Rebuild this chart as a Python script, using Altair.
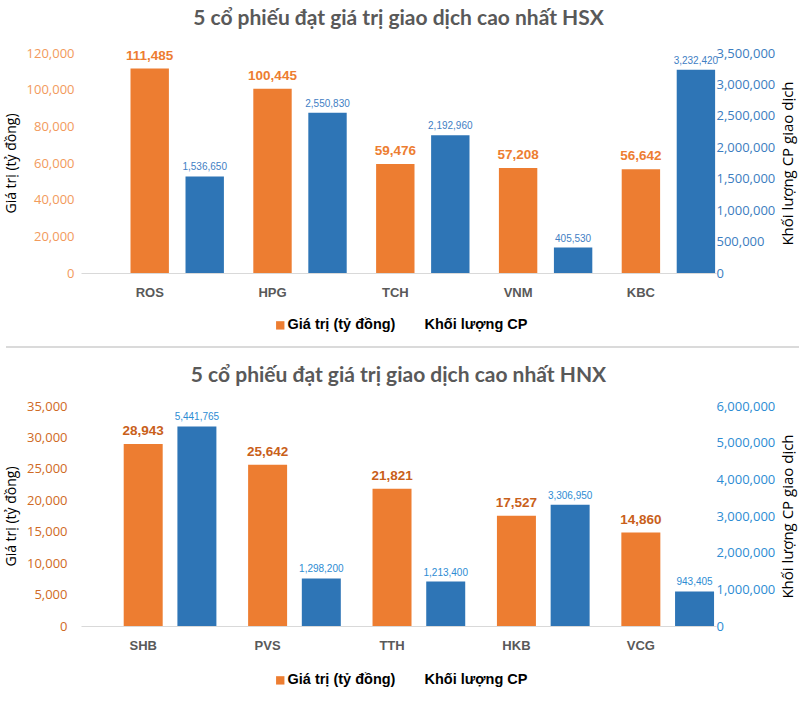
import altair as alt
import pandas as pd

# ---------------- data ----------------
series_names = ["Giá trị (tỷ đồng)", "Khối lượng CP"]

hsx_title = "5 cổ phiếu đạt giá trị giao dịch cao nhất HSX"
hsx_stocks = ["ROS", "HPG", "TCH", "VNM", "KBC"]
hsx_value = [111485, 100445, 59476, 57208, 56642]
hsx_volume = [1536650, 2550830, 2192960, 405530, 3232420]
hsx_value_ticks = [0, 20000, 40000, 60000, 80000, 100000, 120000]
hsx_volume_ticks = [0, 500000, 1000000, 1500000, 2000000, 2500000, 3000000, 3500000]

hnx_title = "5 cổ phiếu đạt giá trị giao dịch cao nhất HNX"
hnx_stocks = ["SHB", "PVS", "TTH", "HKB", "VCG"]
hnx_value = [28943, 25642, 21821, 17527, 14860]
hnx_volume = [5441765, 1298200, 1213400, 3306950, 943405]
hnx_value_ticks = [0, 5000, 10000, 15000, 20000, 25000, 30000, 35000]
hnx_volume_ticks = [0, 1000000, 2000000, 3000000, 4000000, 5000000, 6000000]

ORANGE = "#ED7D31"
BLUE = "#2E75B6"
NARROW = "Liberation Sans Narrow, Liberation Sans, Arial, sans-serif"
SANS = "Open Sans"


def panel(title, stocks, values, volumes, vticks, wticks, style, separator=False):
    df_val = pd.DataFrame({"stock": stocks, "series": series_names[0], "amount": values})
    df_vol = pd.DataFrame({"stock": stocks, "series": series_names[1], "amount": volumes})

    x = alt.X(
        "stock:N",
        sort=stocks,
        scale=alt.Scale(paddingInner=0, paddingOuter=style["po"], align=style["align"]),
        axis=alt.Axis(
            title=None, labelAngle=0, ticks=False, domainColor="#D9D9D9",
            labelPadding=13, labelFont=NARROW, labelFontSize=13,
            labelFontWeight="bold", labelColor="#595959",
        ),
    )
    xo = alt.XOffset(
        "series:N",
        sort=series_names,
        scale=alt.Scale(domain=series_names, range=style["xo_range"],
                        paddingInner=style["xo_pi"], paddingOuter=0),
    )
    legend = alt.Legend(
        title=None, orient="none", direction="horizontal",
        legendX=style["legx"], legendY=style["legy"],
        symbolType="square", symbolSize=70, symbolStrokeWidth=0,
        symbolOpacity=alt.ExprRef("datum.value === 'Khối lượng CP' ? 0 : 1"),
        labelFont=NARROW, labelFontSize=14.5, labelFontWeight="bold",
        labelColor="#000000", labelOffset=0, columnPadding=14,
    )
    color = alt.Color(
        "series:N",
        scale=alt.Scale(domain=series_names, range=[ORANGE, BLUE]),
        legend=legend,
    )

    yv = alt.Y(
        "amount:Q",
        scale=alt.Scale(domain=[0, vticks[-1]], nice=False),
        axis=alt.Axis(
            orient="left", values=vticks, format=",.0f", grid=False, domain=False,
            ticks=False, labelPadding=style["lpad"], labelFont=SANS, labelFontSize=13,
            labelColor=style["vaxis_color"], title=series_names[0],
            titleFont=SANS, titleFontSize=14, titleFontWeight="normal",
            titleColor="#000000", titlePadding=8,
        ),
    )
    yw = alt.Y(
        "amount:Q",
        scale=alt.Scale(domain=[0, wticks[-1]], nice=False),
        axis=alt.Axis(
            orient="right", values=wticks, format=",.0f", grid=False, domain=False,
            ticks=False, labelPadding=0, labelFont=SANS, labelFontSize=13,
            labelColor=style["waxis_color"], title="Khối lượng CP giao dịch",
            titleFont=SANS, titleFontSize=15, titleFontWeight="normal",
            titleColor="#000000", titlePadding=6, titleAngle=270,
            titleBaseline="top",
        ),
    )

    base_v = alt.Chart(df_val).encode(x=x, xOffset=xo, y=yv)
    bars_v = base_v.mark_bar().encode(color=color)
    text_v = base_v.mark_text(
        baseline="bottom", dy=-6, font=NARROW, fontSize=13.5, fontWeight="bold",
        color=style["vlabel_color"],
    ).encode(text=alt.Text("amount:Q", format=","))

    base_w = alt.Chart(df_vol).encode(x=x, xOffset=xo, y=yw)
    bars_w = base_w.mark_bar().encode(color=color)
    text_w = base_w.mark_text(
        baseline="bottom", dy=-4, font=NARROW, fontSize=10,
        color=style["wlabel_color"],
    ).encode(text=alt.Text("amount:Q", format=","))

    layers = [alt.layer(bars_v, text_v), alt.layer(bars_w, text_w)]
    if separator:
        sep = alt.Chart(pd.DataFrame({"k": [0]})).mark_rule(
            color="#DADADA", strokeWidth=2
        ).encode(x=alt.value(-75), x2=alt.value(718), y=alt.value(294))
        layers.append(sep)

    return alt.layer(*layers).resolve_scale(y="independent").properties(
        width=635, height=220,
        title=alt.Title(title, font="Lato", fontSize=21, fontWeight="bold",
                        color="#595959", anchor="middle", offset=style["toff"]),
    )


top = panel(
    hsx_title, hsx_stocks, hsx_value, hsx_volume, hsx_value_ticks, hsx_volume_ticks,
    dict(po=0.0855, align=0.348, xo_range=[42.2, 135.6], xo_pi=0.302,
         legx=192, legy=265, lpad=7, toff=18, vaxis_color="#F29A5C",
         waxis_color="#3C7DC0", vlabel_color=ORANGE, wlabel_color="#3F80C4"),
    separator=True,
)
bottom = panel(
    hnx_title, hnx_stocks, hnx_value, hnx_volume, hnx_value_ticks, hnx_volume_ticks,
    dict(po=0.052, align=0.0, xo_range=[42.7, 135.4], xo_pi=0.274,
         legx=192, legy=267, lpad=14, toff=14, vaxis_color="#CF6A24",
         waxis_color="#2D8CD3", vlabel_color="#C9601A", wlabel_color="#2D8CD3"),
)

chart = alt.vconcat(top, bottom, spacing=17).resolve_scale(
    x="independent", xOffset="independent", y="independent", color="independent"
).properties(
    padding={"left": 4, "top": 8, "right": 0, "bottom": 4},
    background="white",
).configure_view(stroke=None)

chart.save("out.html", embed_options={"renderer": "svg", "actions": False})
